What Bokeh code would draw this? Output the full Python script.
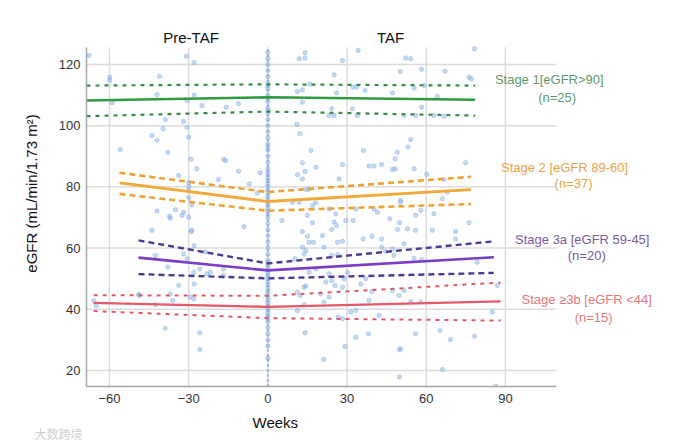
from bokeh.plotting import figure
from bokeh.models import Range1d, FixedTicker, Label, Title
from bokeh.embed import file_html
from bokeh.resources import INLINE

# ---- data ----
x_ticks = [-60, -30, 0, 30, 60, 90]
y_ticks = [20, 40, 60, 80, 100, 120]
x_lo, x_hi = -68.7, 109.3      # axis extent (weeks)
y_lo, y_hi = 14.8, 125.6       # axis extent (eGFR)

stage_names = ["Stage 1[eGFR>90]", "Stage 2 [eGFR 89-60]", "Stage 3a [eGFR 59-45]", "Stage \u22653b [eGFR <44]"]
stage_n = ["(n=25)", "(n=37)", "(n=20)", "(n=15)"]

s1_weeks = [-68.7, 0, 78.5]
s1_mean = [108.2, 109.3, 108.5]
s1_upper = [113.1, 113.5, 113.1]
s1_lower = [103.1, 104.6, 103.3]

s2_weeks = [-56.2, 0, 77.0]
s2_mean = [81.3, 75.2, 79.1]
s2_upper = [84.6, 78.3, 83.3]
s2_lower = [77.7, 72.2, 74.4]

s3a_weeks = [-49.0, 0, 85.6]
s3a_mean = [56.9, 52.7, 57.0]
s3a_upper = [62.5, 55.0, 62.2]
s3a_lower = [51.5, 50.1, 51.9]

s3b_weeks = [-66.0, 0, 88.2]
s3b_mean = [42.1, 40.8, 42.6]
s3b_upper = [44.6, 44.4, 48.7]
s3b_lower = [39.4, 37.1, 36.3]

pre_weeks = [-67.8, -30.9, -27.9, -59.9, -59.9, -41, -59, -42, -27.9, -25, -15.8, -11.1, -30.6,
             -38.8, -39.7, -31.9, -30.6, -30, -43.9, -42, -55.9, -37.9, -29.1, -26.9, -16.8, -16,
             -11.1, -33.8, -18.7, -30, -30, -30, -30, -42, -35, -37.2, -31.9, -28.8, -37, -32.5,
             -30, -43.9, -29, -9, -27.9, -42.6, -31.9, -30.6, -23.7, -37.9, -28.1, -25.8, -23.1,
             -21.8, -16.8, -16.8, -27.9, -33.8, -48.9, -37, -36, -29.4, -28.1, -66, -65, -42.6,
             -38.9, -25.8, -25.8, -48.7, -28.9, -7, -4]
pre_egfr = [122.9, 122.7, 120.6, 115.8, 114.8, 116.1, 107.5, 110.1, 109.9, 106.6, 106, 107.2, 108.2,
            102, 99, 101.4, 99.5, 96.2, 96.8, 95.2, 92.2, 91.3, 89, 85.9, 89, 88.6,
            85.1, 83.7, 82.4, 81.4, 80.1, 78.8, 76.5, 72.1, 72.5, 70.4, 71.7, 74.1, 69.8, 70.7,
            70.1, 65.8, 65.4, 67, 60.8, 57.6, 58.1, 56.5, 58.7, 53.8, 52.1, 53.2, 51.6,
            52.1, 53.2, 51, 48.3, 47.8, 44.8, 45, 42.9, 44, 43.4, 42.9, 41.2, 41.5,
            33.8, 32.3, 26.9, 44.6, 65.8, 81, 78]

taf_weeks = [11.9, 14.1, 14.1, 28.3, 34.2, 25.1, 50.1, 11.2, 13.1, 15.9, 13.1, 26, 32.3, 33.7, 36.8,
             47.2, 24.2, 23.2, 25.1, 32, 33.9, 11, 12.1, 16.3, 36.2, 49, 48.2, 13.1, 18.2, 28.3,
             38.3, 40.2, 43.1, 48.2, 47.2, -2.9, 11.2, 14.1, 13.1, 14.6, 15.6, 27, 9.3, 11.9, 16.9,
             18.2, 23.2, 25.7, 33.3, 40.2, 41.5, 50.3,
             52.2, 54.1, 78.3, 58.2, 67.1, 76.2, 77.1, 55.4, 59.2, 64.2, 58.2, 51.6, 56, 62.9, 66.7,
             54.1, 53.1, 55.4, 60.2, 74.9, 66.7, 66.1, 68, 57.9, 62.9, 56, 50.3,
             5.3, 15, 16.9, 25.1, 24.2, 26, 29.5, 32.3, 13.1, 15, 15.6, 20.7, 21.3, 17.3, 26.4, 28.3,
             36.1, 39.4, 43.1, 46.2, 49.9, 49.1, 13.1, 14.4, 13.7, 24.2, 26.4, 43.1, 44.6, 47.2, 47.8,
             10.3, 15.6, 18.2, 23.2, 21.9, 24.2, 25.5, 30.2, 28.9, 28.3, 35.2, 37.1, 39.4, 13.7, 14.4,
             11.2, 12.2, 20, 23.2, 47.2, 49.7, 13.7, 11.2, 21.3, 38.3, 31.4, 33.3, 26.7, 28.3, 42.1,
             14.1, 33.3, 38.1, 29.2, 21.1, 49.9, 49.9,
             52.9, 56, 62.3, 71.1, 71.1, 76.2, 51.6, 55.4, 58.2, 79.3, 51.6, 54.1, 57.9, 85, 56, 65.2,
             69.2, 78.3, 66.1, 50.3, 86.9, 86.3]
taf_egfr = [121.9, 123.8, 122.1, 121.3, 124.6, 116.6, 117.7, 111.2, 111.7, 113.5, 107.7, 110.7, 112.6, 112.6, 111.5,
            110.7, 105.5, 103.3, 103.3, 105.5, 103.3, 100.4, 97.4, 91.9, 91.9, 91.3, 89.2, 87.9, 86.4, 87.3,
            86.8, 86.8, 87.3, 85.9, 85.7, 84.6, 84, 85, 82.6, 79.1, 79.3, 82.6, 75, 75, 73.9,
            74.8, 72.8, 71.2, 72.8, 72.8, 71.7, 75.6,
            122.1, 121.9, 125.1, 118.4, 117.8, 115.8, 115.3, 112.3, 113.1, 109.6, 106, 103.3, 103.3, 103.3, 103.1,
            95.5, 93, 85.9, 84.1, 87.9, 82.4, 76.1, 78.3, 72.3, 71.2, 70.7, 75,
            69, 70.7, 68.3, 68.5, 66.1, 67.4, 69, 69, 65.4, 63.9, 61.9, 64.1, 60.3, 61.9, 61.9, 62.2,
            63, 63.9, 63, 69.6, 68.3, 66.1, 60.3, 59.2, 58.1, 57.6, 57.8, 60.3, 58.9, 59.8, 57.6,
            56.5, 52.1, 53.2, 51.6, 48.9, 49.4, 47.8, 52.1, 50, 47.2, 48.3, 50, 45.8, 47.2, 47.6,
            45.6, 44.5, 45, 44, 46.1, 44.5, 41.5, 39.6, 42.3, 42.9, 39.1, 39.6, 37.4, 36.9, 38,
            32.3, 30.9, 32, 27.8, 23.6, 26.9, 17.9,
            66.3, 65.8, 65.8, 65.4, 63, 68.3, 61.4, 56.7, 56.3, 55.4, 46.1, 42.5, 42.5, 39.1, 32, 33.1,
            30.1, 31.2, 20.3, 27, 47.8, 14.9]

base_egfr = [124, 122, 120, 118, 116, 114, 113, 112, 110, 109, 108, 106, 105, 104, 102, 100, 98, 96,
             94, 93, 92, 90, 88, 86, 85, 84, 83, 82, 81, 80, 79, 78, 77, 76, 75, 74, 73, 72, 71, 70,
             68, 66, 64, 62, 60, 58, 56, 55, 54, 53, 52, 51, 50, 49, 48, 47, 46, 45, 44, 43, 42, 41,
             40, 39, 38, 37, 36, 34, 32, 30, 28, 24]
base_weeks = [0] * len(base_egfr)

# ---- figure ----
FONT = "Liberation Sans"
p = figure(width=676, height=441, output_backend="svg", toolbar_location=None,
           x_range=Range1d(-68.7, 154.8), y_range=Range1d(14.77, 140.9),
           min_border_left=86, min_border_right=0, min_border_top=0, min_border_bottom=55,
           background_fill_color="white", border_fill_color="white")
p.outline_line_color = None
p.grid.visible = False

for ax, ticks, bnds in ((p.xaxis[0], x_ticks, (x_lo, x_hi)), (p.yaxis[0], y_ticks, (y_lo, y_hi))):
    ax.ticker = FixedTicker(ticks=ticks)
    ax.bounds = bnds
    ax.axis_line_color = "#a8a8a8"
    ax.axis_line_width = 1.5
    ax.major_tick_line_color = None
    ax.minor_tick_line_color = None
    ax.major_tick_out = 0
    ax.major_tick_in = 0
    ax.minor_tick_out = 0
    ax.major_label_text_font = FONT
    ax.major_label_text_font_size = "13px"
    ax.major_label_text_color = "#333333"
    ax.axis_label_text_font = FONT
    ax.axis_label_text_font_size = "15px"
    ax.axis_label_text_font_style = "normal"
    ax.axis_label_text_color = "#111111"

p.yaxis.axis_label = "eGFR (mL/min/1.73 m\u00b2)"
p.xaxis.major_label_standoff = 7
p.yaxis.major_label_standoff = 6
p.yaxis.axis_label_standoff = 16

# grid lines limited to the axis extent
p.segment(x0=x_ticks, y0=[y_lo] * len(x_ticks), x1=x_ticks, y1=[y_hi] * len(x_ticks),
          line_color="#dcdcdc", line_width=1.5, level="underlay")
p.segment(x0=[x_lo] * len(y_ticks), y0=y_ticks, x1=[x_hi] * len(y_ticks), y1=y_ticks,
          line_color="#dcdcdc", line_width=1.5, level="underlay")

# scatter points
pt = dict(size=4.5, fill_color="#8ab4e6", fill_alpha=0.5, line_color="#6f9fd8", line_alpha=0.4, line_width=0.8)
p.scatter(pre_weeks, pre_egfr, **pt)
p.scatter(taf_weeks, taf_egfr, **pt)
p.segment(x0=[0], y0=[y_lo], x1=[0], y1=[y_hi], line_color="#6fa3dd", line_width=2, line_dash="2 3", line_alpha=0.8)
p.scatter(base_weeks, base_egfr, **pt)

stages = [
    (s1_weeks, s1_mean, s1_upper, s1_lower, "#2f9a40", "#3b8a4b", "4 5", 2.2),
    (s2_weeks, s2_mean, s2_upper, s2_lower, "#f3a83a", "#f0a232", "6 4", 2.6),
    (s3a_weeks, s3a_mean, s3a_upper, s3a_lower, "#7b3cc8", "#4f3a92", "6 4", 2.4),
    (s3b_weeks, s3b_mean, s3b_upper, s3b_lower, "#e5596a", "#e2566a", "4 5", 2.0),
]
for wk, mean, up, lo, c_solid, c_dash, dash, lw in stages:
    p.line(wk, up, line_color=c_dash, line_width=lw, line_dash=dash)
    p.line(wk, lo, line_color=c_dash, line_width=lw, line_dash=dash)
    p.line(wk, mean, line_color=c_solid, line_width=lw + 0.3)

label_colors = ["#5f9a6a", "#eaa24a", "#7a5c9c", "#e27a7c"]
name_pos = [(106.6, 115.1), (112.4, 86.4), (119.1, 62.7), (120.8, 43.1)]
n_pos = [(109.6, 109.3), (115.8, 81.0), (120.8, 57.6), (123.4, 37.4)]
for i in range(4):
    for txt, (lx, ly) in ((stage_names[i], name_pos[i]), (stage_n[i], n_pos[i])):
        p.add_layout(Label(x=lx, y=ly, text=txt, text_align="center", text_baseline="middle",
                           text_font=FONT, text_font_size="13px", text_color=label_colors[i]))

for txt, lx in (("Pre-TAF", -29.1), ("TAF", 46.5)):
    p.add_layout(Label(x=lx, y=128.8, text=txt, text_align="center", text_baseline="middle",
                       text_font=FONT, text_font_size="15px", text_color="#111111"))

# x-axis title and watermark below the axis
p.add_layout(Title(text="Weeks", align="left", offset=166, standoff=17, vertical_align="top",
                   text_font=FONT, text_font_size="15px", text_font_style="normal",
                   text_color="#111111"), "below")
p.add_layout(Title(text="\u5927\u6570\u8de8\u5883", align="left", offset=-52, standoff=-34,
                   vertical_align="top", text_font="Noto Sans CJK SC", text_font_size="12px",
                   text_font_style="normal", text_color="#d0d0d0"), "below")

open("out.html", "w").write(file_html(p, INLINE))
